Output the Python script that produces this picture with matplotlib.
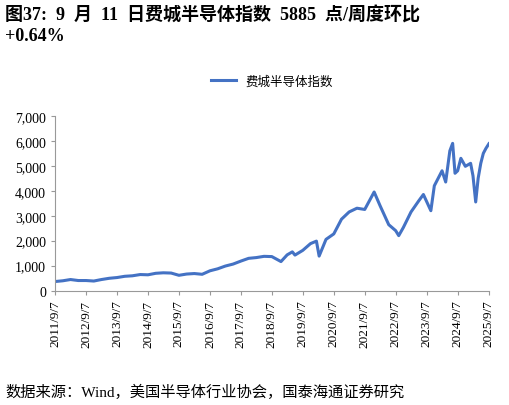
import matplotlib
matplotlib.use("Agg")
import matplotlib.pyplot as plt
import matplotlib.dates as mdates
import pandas as pd

plt.rcParams["font.family"] = ["Liberation Serif", "Noto Sans CJK SC"]

DATES = [
    "2011-09-07", "2011-12-07", "2012-03-07", "2012-06-07", "2012-09-07", "2012-12-07",
    "2013-03-07", "2013-06-07", "2013-09-07", "2013-12-07", "2014-03-07", "2014-06-07",
    "2014-09-07", "2014-12-07", "2015-03-07", "2015-06-07", "2015-09-07", "2015-12-07",
    "2016-03-07", "2016-06-07", "2016-09-07", "2016-12-07", "2017-03-07", "2017-06-07",
    "2017-09-07", "2017-12-07", "2018-03-07", "2018-06-07", "2018-09-07", "2018-12-24",
    "2019-03-07", "2019-05-07", "2019-06-07", "2019-09-07", "2019-12-07", "2020-02-15",
    "2020-03-18", "2020-06-07", "2020-09-07", "2020-12-07", "2021-03-07", "2021-06-07",
    "2021-09-07", "2021-12-27", "2022-03-07", "2022-06-17", "2022-09-07", "2022-10-13",
    "2022-12-07", "2023-03-07", "2023-06-07", "2023-07-31", "2023-10-27", "2023-12-07",
    "2024-03-07", "2024-04-19", "2024-06-07", "2024-07-10", "2024-08-07", "2024-09-07",
    "2024-10-15", "2024-12-07", "2025-02-07", "2025-03-07", "2025-04-08", "2025-05-07",
    "2025-06-07", "2025-07-07", "2025-08-07", "2025-09-11",
]
SOX = [
    360, 390, 440, 400, 400, 380,
    440, 490, 520, 570, 590, 640,
    630, 690, 710, 700, 610, 660,
    680, 650, 790, 870, 980, 1060,
    1180, 1290, 1320, 1370, 1360, 1160,
    1430, 1550, 1420, 1610, 1880, 1980,
    1380, 2050, 2270, 2860, 3150, 3300,
    3250, 3950, 3400, 2640, 2400, 2200,
    2530, 3150, 3600, 3850, 3200, 4200,
    4800, 4350, 5600, 5900, 4700, 4800,
    5300, 4980, 5100, 4600, 3550, 4500,
    5100, 5500, 5700, 5885,
]
X_TICKS = [f"{y}-09-07" for y in range(2011, 2026)]

fig = plt.figure(figsize=(5.1, 4.06), dpi=100)
ax = fig.add_axes([0.108, 0.282, 0.85, 0.43])
ax.plot(pd.to_datetime(DATES), SOX, color="#4472C4", linewidth=2.2, label="费城半导体指数")
ax.set_ylim(0, 7000)
ax.set_yticks(range(0, 7001, 1000))
ax.set_yticklabels([f"{v:,}" for v in range(0, 7001, 1000)], fontsize=10)
ticks = pd.to_datetime(X_TICKS)
ax.set_xticks(ticks)
ax.set_xticklabels([f"{t.year}/9/7" for t in ticks], rotation=90, fontsize=9.5)
ax.set_xlim(ticks[0], ticks[-1])
for s in ["top", "right"]:
    ax.spines[s].set_visible(False)
ax.spines["left"].set_color("#999999")
ax.spines["bottom"].set_color("#999999")
ax.tick_params(length=3, color="#999999")
ax.legend(loc="upper center", bbox_to_anchor=(0.5, 1.3), frameon=False,
          prop={"family": "Noto Sans CJK SC", "size": 9})

fig.text(0.01, 0.985, "图37:  9  月  11  日费城半导体指数  5885  点/周度环比\n+0.64%",
         fontsize=13, fontweight="bold", va="top", ha="left", linespacing=1.3)
fig.text(0.01, 0.015, "数据来源：Wind，美国半导体行业协会，国泰海通证券研究",
         fontsize=11, va="bottom", ha="left")
fig.savefig("out.png", dpi=100)
